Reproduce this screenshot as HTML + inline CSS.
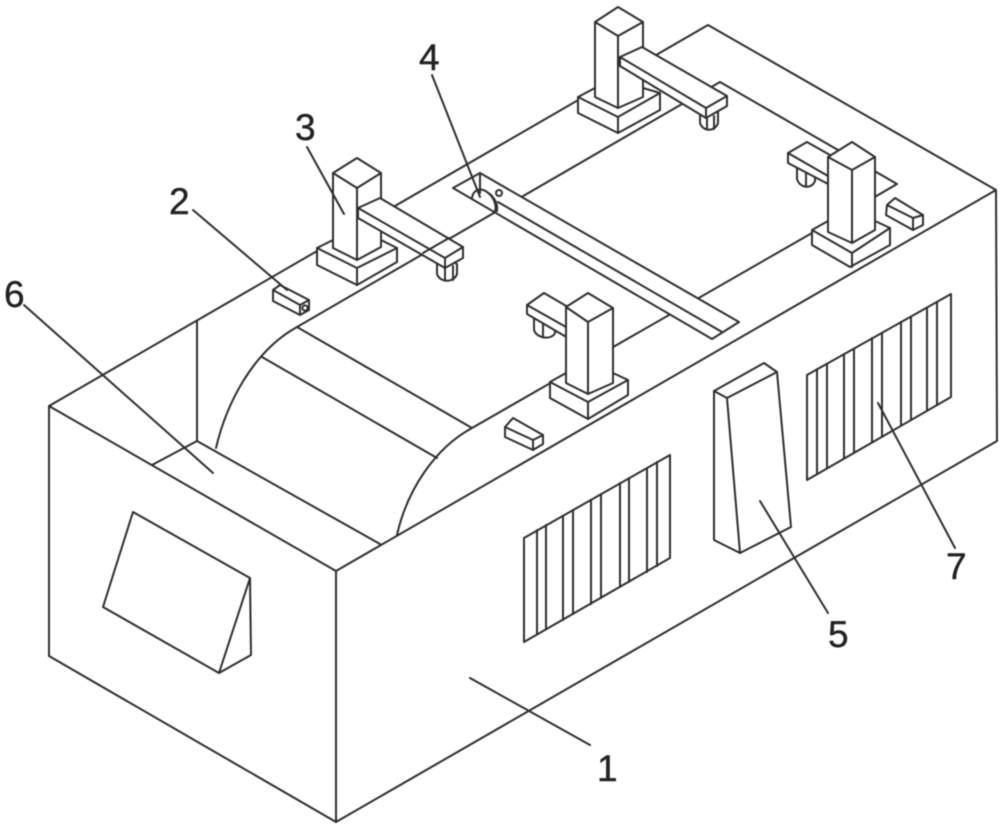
<!DOCTYPE html>
<html>
<head>
<meta charset="utf-8">
<style>
html,body{margin:0;padding:0;background:#fff;width:1000px;height:827px;overflow:hidden}
svg{display:block;filter:blur(.4px)}
.l{fill:none;stroke:#2e2e2e;stroke-width:2;stroke-linejoin:round;stroke-linecap:round}
.f{fill:#fff;stroke:#2e2e2e;stroke-width:2;stroke-linejoin:round;stroke-linecap:round}
.t{font-family:"Liberation Sans",sans-serif;font-size:37px;fill:#222;stroke:#222;stroke-width:.4}
</style>
</head>
<body>
<svg width="1000" height="827" viewBox="0 0 1000 827" xmlns="http://www.w3.org/2000/svg">
<!-- box -->
<path class="l" d="M49 406V656L336 822V571L49 406"/>
<path class="l" d="M336 822L997 441L996 190L708 25L49 406"/>
<path class="l" d="M336 571L996 190"/>
<!-- hopper -->
<path class="l" d="M197 321V441L380 544M152 465L197 441"/>
<!-- platform -->
<path class="l" d="M216 448C226 405 252 352 297 327L720 82L897 184L873 198L472 428C435 448 407 490 397 535"/>
<path class="l" d="M297 327L472 428M262 357L437 458"/>
<!-- slot -->
<path class="f" d="M453 188L480 173L739 322L712 339Z"/>
<path class="l" d="M498 202L722 332"/>
<path class="l" d="M480 173V193"/>
<path class="l" d="M472 198C473 190 480 187 487 192C493 196 497 204 495 212"/>
<path class="l" d="M490 194C495 199 498 204 497 211"/>
<circle class="f" cx="499" cy="193" r="3"/>

<!-- robot 3 -->
<g>
<path class="f" d="M437 262V274C440 283 454 283 457 274V264L437 254Z"/>
<path class="l" d="M445 266V280M453 266V280"/>
<path class="f" d="M317 248L333 240H381L397 248V262L357 285L317 265Z"/>
<path class="l" d="M317 248L357 268L397 248M357 268V285"/>
<path class="f" d="M333 173L357 158L381 173V247L357 260L333 248Z"/>
<path class="l" d="M333 173L357 188L381 173M357 188V260"/>
<path class="f" d="M358 208L380 198L463 247V258L445 268L358 218Z"/>
<path class="l" d="M358 208L445 258L463 247M445 258V268"/>
<path class="l" d="M423 253L449 238"/>
</g>
<!-- robot top -->
<g>
<path class="f" d="M700 113V123C703 132 715 132 718 123V112L700 102Z"/>
<path class="l" d="M707 116V129M714 116V129"/>
<path class="f" d="M578 97L595 88H643L660 93V110L618 133L578 113Z"/>
<path class="l" d="M578 97L618 117L660 93M618 117V133"/>
<path class="f" d="M595 22L618 7L643 22V97L618 108L595 97Z"/>
<path class="l" d="M595 22L618 36L643 22M618 36V108"/>
<path class="f" d="M620 57L642 47L727 96V106L706 118L620 66Z"/>
<path class="l" d="M620 57L706 108L727 96M706 108V118"/>
</g>
<!-- robot right -->
<g>
<path class="f" d="M797 164V179C800 189 812 189 815 181V172Z"/>
<path class="l" d="M806 170V186"/>
<path class="f" d="M788 153L807 142L830 155V185L788 163Z"/>
<path class="l" d="M788 153L828 176"/>
<path class="f" d="M812 230L828 221H875L890 228V245L850 267L812 245Z"/>
<path class="l" d="M812 230L852 253L890 228M852 253V267"/>
<path class="f" d="M828 157L852 142L875 157V230L852 243L828 232Z"/>
<path class="l" d="M828 157L852 170L875 157M852 170V243"/>
</g>
<!-- robot bottom -->
<g>
<path class="f" d="M534 318V330C537 339 552 340 555 333V328Z"/>
<path class="l" d="M543 323V337"/>
<path class="f" d="M527 305L544 293L568 307V338L527 314Z"/>
<path class="l" d="M527 305L566 327"/>
<path class="f" d="M550 382L566 373H613L628 380V395L588 419L550 398Z"/>
<path class="l" d="M550 382L588 402L628 380M588 402V419"/>
<path class="f" d="M566 307L588 293L613 308V383L588 394L566 383Z"/>
<path class="l" d="M566 307L588 322L613 308M588 322V394"/>
</g>

<!-- sensors -->
<path class="f" d="M273 290L280 285L309 300V310L300 315L273 301Z"/>
<path class="l" d="M273 290L300 305L309 300M300 305V315"/>
<circle class="l" cx="305" cy="308" r="2.6"/>
<path class="f" d="M505 427L513 418L543 435V444L533 450L505 437Z"/>
<path class="l" d="M505 427L533 440L543 435M533 440V450"/>
<path class="f" d="M887 205L895 198L923 215V225L913 230L886 215Z"/>
<path class="l" d="M887 205L913 218L923 215M913 218V230"/>

<!-- vent 1 -->
<path class="l" d="M524 538L670 455V558L524 642Z"/>
<path class="l" d="M537 530V634M546 525V629M563 516V620M573 510V614M591 500V604M601 494V598M620 483V587M629 478V582M647 468V572M657 462V566"/>
<!-- vent 2 -->
<path class="l" d="M807 375L951 294V397L807 480Z"/>
<path class="l" d="M817 369V474M827 364V468M844 354V458M854 349V452M872 338V442M882 333V436M901 322V425M911 317V420M927 308V411M937 302V405"/>
<!-- wedge 5 -->
<path class="f" d="M714 391L764 363L777 372L791 527L740 553L714 540Z"/>
<path class="l" d="M714 391L727 398L777 372M727 398L740 553"/>
<!-- display -->
<path class="f" d="M133 512L250 578L251 655L219 673L103 607Z"/>
<path class="l" d="M250 578L219 673"/>

<!-- leaders -->
<path class="l" d="M470 678L590 745M193 210L287 290M307 147L344 214M432 75L480 197M760 501L828 613M24 305L213 473M878 403L955 548"/>
<!-- labels -->
<text class="t" x="597" y="781">1</text>
<text class="t" x="169" y="214">2</text>
<text class="t" x="295" y="140">3</text>
<text class="t" x="419" y="70">4</text>
<text class="t" x="828" y="647">5</text>
<text class="t" x="4" y="307">6</text>
<text class="t" x="946" y="579">7</text>
</svg>
</body>
</html>
